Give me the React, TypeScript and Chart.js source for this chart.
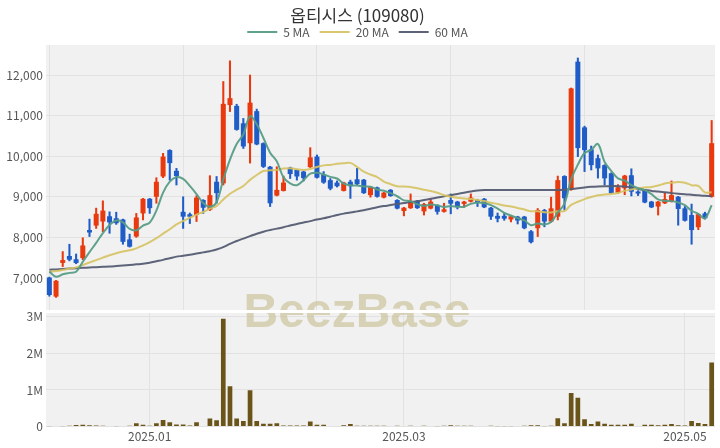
import React, { useEffect, useRef } from 'react';
import { Chart, registerables } from 'chart.js';
Chart.register(...registerables);

const title = '옵티시스 (109080)';
const dates = [
  '2024-12-09','2024-12-10','2024-12-11','2024-12-12','2024-12-13','2024-12-16','2024-12-17','2024-12-18','2024-12-19','2024-12-20',
  '2024-12-23','2024-12-24','2024-12-26','2024-12-27','2024-12-30','2025-01-02','2025-01-03','2025-01-06','2025-01-07','2025-01-08',
  '2025-01-09','2025-01-10','2025-01-13','2025-01-14','2025-01-15','2025-01-16','2025-01-17','2025-01-20','2025-01-21','2025-01-22',
  '2025-01-23','2025-01-24','2025-01-31','2025-02-03','2025-02-04','2025-02-05','2025-02-06','2025-02-07','2025-02-10','2025-02-11',
  '2025-02-12','2025-02-13','2025-02-14','2025-02-17','2025-02-18','2025-02-19','2025-02-20','2025-02-21','2025-02-24','2025-02-25',
  '2025-02-26','2025-02-27','2025-02-28','2025-03-04','2025-03-05','2025-03-06','2025-03-07','2025-03-10','2025-03-11','2025-03-12',
  '2025-03-13','2025-03-14','2025-03-17','2025-03-18','2025-03-19','2025-03-20','2025-03-21','2025-03-24','2025-03-25','2025-03-26',
  '2025-03-27','2025-03-28','2025-03-31','2025-04-01','2025-04-02','2025-04-03','2025-04-04','2025-04-07','2025-04-08','2025-04-09',
  '2025-04-10','2025-04-11','2025-04-14','2025-04-15','2025-04-16','2025-04-17','2025-04-18','2025-04-21','2025-04-22','2025-04-23',
  '2025-04-24','2025-04-25','2025-04-28','2025-04-29','2025-04-30','2025-05-02','2025-05-07','2025-05-08','2025-05-09','2025-05-12',
];
const opens = [
  7010,6540,7370,7540,7460,7490,8180,8290,8390,8520, 8470,8440,7950,8020,8590,8950,9000,9500,10150,9640,
  8630,8570,8550,8920,8680,9370,9330,11260,11240,10810, 10320,11110,10320,9740,9030,9145,9720,9660,9620,9730,
  9990,9550,9410,9350,9145,9370,9430,9420,9040,9230, 8980,9170,8920,8650,8720,8900,8640,8710,8790,8630,
  8920,8880,8825,8880,8920,8950,8730,8530,8530,8440, 8510,8510,8150,8225,8670,8390,8510,9510,9170,12330,
  10710,10170,9950,9780,9580,9100,9210,9530,9130,9150, 8880,8760,8840,8880,9000,8716,8550,8250,8590,9000,
];
const highs = [
  7020,6940,7650,7830,7590,7990,8450,8720,8900,8630, 8620,8450,8080,8590,8960,8960,9470,10070,10160,9700,
  9000,8600,9030,8930,9520,9500,11840,12350,11280,10930, 12000,11160,10330,9750,9740,9510,9730,9670,9630,10210,
  10030,9620,9450,9390,9360,9410,9700,9430,9240,9240, 9110,9180,8930,8740,9070,8910,8840,8940,8800,8840,
  9070,8890,8890,9070,8940,8960,8740,8600,8590,8530, 8520,8520,8170,8710,8690,8990,9510,9520,11680,12420,
  10740,10250,10030,9790,9590,9300,9530,9690,9150,9160, 8890,8890,9100,9390,9010,8760,8820,8580,8620,10880,
];
const lows = [
  6550,6520,7280,7420,7350,7450,8020,8220,8140,8100, 8320,7830,7760,8000,8430,8590,8840,9470,9410,9290,
  8220,8340,8390,8590,8660,8840,9290,11100,10640,10190, 9830,10280,9720,8760,9020,9140,9450,9410,9390,9720,
  9460,9330,9170,9240,9140,8960,9290,9080,8990,8990, 8970,9010,8700,8530,8710,8710,8550,8700,8570,8620,
  8580,8700,8740,8870,8760,8730,8440,8380,8420,8380, 8330,8210,7860,8020,8260,8380,8430,8670,9160,9990,
  9620,9660,9460,9290,9080,9080,9050,9020,9030,8850, 8730,8550,8830,8870,8300,8400,7830,8190,8450,8990,
];
const closes = [
  6580,6930,7440,7450,7370,7800,8120,8580,8660,8370, 8350,7890,7770,8490,8950,8720,9370,9990,9830,9510,
  8510,8510,8980,8730,9040,9090,11290,11430,10650,10240, 11320,10290,9740,8840,9170,9350,9560,9500,9460,9970,
  9470,9350,9200,9260,9350,9260,9310,9090,9235,9000, 9100,9020,8710,8730,8900,8720,8820,8880,8630,8690,
  8830,8745,8880,8980,8860,8740,8510,8460,8460,8520, 8415,8225,7880,8675,8390,8715,9410,8965,11670,10200,
  10150,9780,9700,9455,9090,9235,9520,9125,9080,8860, 8740,8880,8945,9040,8700,8410,8180,8570,8470,10320,
];
const volumes = [
  10000,15000,12000,20000,45000,50000,40000,30000,20000,15000, 12000,15000,20000,90000,50000,20000,90000,180000,120000,60000,
  60000,30000,120000,15000,220000,170000,2940000,1100000,220000,150000, 990000,150000,80000,80000,90000,30000,30000,30000,30000,140000,
  50000,50000,15000,15000,40000,70000,25000,20000,25000,20000, 20000,15000,20000,15000,25000,15000,20000,15000,10000,20000,
  40000,25000,20000,20000,15000,15000,20000,10000,10000,10000, 15000,20000,40000,40000,10000,25000,230000,90000,920000,790000,
  200000,70000,140000,80000,50000,50000,50000,80000,15000,50000, 50000,40000,50000,70000,40000,30000,150000,100000,70000,1750000,
];
const ma5 = [
  7155,7030,7090,7125,7154,7398,7636,7864,8106,8306, 8416,8370,8208,8174,8290,8364,8660,9104,9372,9484,
  9442,9270,9068,8848,8754,8870,9426,9916,10300,10540, 10986,10786,10448,10086,9872,9478,9332,9284,9408,9568,
  9592,9550,9490,9450,9326,9284,9276,9254,9249,9179, 9147,9089,9013,8912,8892,8816,8776,8810,8790,8748,
  8770,8755,8755,8825,8859,8841,8794,8710,8606,8538, 8473,8416,8300,8343,8317,8377,8614,8831,9430,9792,
  10079,10153,10300,9857,9635,9452,9400,9285,9210,9164, 9065,8937,8901,8893,8861,8795,8655,8580,8466,8790,
];
const ma20 = [
  7155,7170,7197,7230,7260,7320,7380,7440,7500,7560, 7610,7650,7680,7730,7800,7880,7980,8090,8200,8320,
  8405,8484,8561,8625,8709,8773,8932,9074,9174,9267, 9416,9536,9634,9652,9663,9694,9704,9679,9661,9684,
  9732,9774,9785,9811,9827,9835,9736,9619,9548,9486, 9375,9312,9260,9255,9241,9210,9173,9142,9100,9036,
  9004,8974,8958,8944,8920,8894,8854,8822,8783,8759, 8725,8685,8644,8641,8616,8615,8645,8649,8801,8877,
  8943,8994,9035,9059,9071,9095,9146,9179,9210,9227, 9243,9276,9329,9348,9363,9348,9286,9267,9107,9113,
];
const ma60 = [
  7200,7210,7220,7230,7240,7250,7258,7266,7273,7280, 7292,7305,7320,7335,7350,7375,7410,7445,7485,7525,
  7545,7570,7600,7630,7660,7700,7760,7840,7910,7970, 8030,8090,8140,8180,8215,8250,8290,8330,8365,8400,
  8440,8470,8510,8550,8585,8610,8640,8670,8705,8740, 8770,8795,8820,8845,8870,8890,8920,8950,8980,9010,
  9040,9070,9100,9130,9155,9165,9165,9166,9167,9167, 9167,9167,9168,9168,9168,9169,9170,9172,9190,9210,
  9230,9245,9255,9260,9262,9262,9255,9230,9195,9165, 9145,9130,9110,9090,9075,9065,9050,9035,9025,9015,
];
const priceTicks = [7000, 8000, 9000, 10000, 11000, 12000];
const volumeTicks = [0, 1000000, 2000000, 3000000];
const monthLabels = ['2025.01', '2025.03', '2025.05'];

const FONT = '"Noto Sans CJK KR", "Noto Sans", sans-serif';
const UP = '#e8390f';
const DOWN = '#1f5cc8';
const GRID = '#e2e2e2';
const BG = '#f1f1f1';
const VOL = '#6b5419';

const labelAt: Record<number, string> = {};
monthLabels.forEach((m) => {
  const key = m.replace('.', '-');
  const idx = dates.findIndex((d) => d.startsWith(key));
  if (idx >= 0) labelAt[idx] = m;
});

function makePlugin(offsetY: number) {
  return {
    id: 'bgwm',
    beforeDraw(chart: any) {
      const { ctx, chartArea: a } = chart;
      ctx.save();
      ctx.fillStyle = BG;
      ctx.fillRect(a.left, a.top, a.right - a.left, a.bottom - a.top);
      ctx.restore();
    },
    beforeDatasetsDraw(chart: any) {
      const { ctx, chartArea: a } = chart;
      ctx.save();
      ctx.beginPath();
      ctx.rect(a.left, a.top, a.right - a.left, a.bottom - a.top);
      ctx.clip();
      ctx.font = 'bold 48px "Liberation Sans", Arial, sans-serif';
      ctx.fillStyle = 'rgba(198,189,146,0.62)';
      ctx.textAlign = 'center';
      ctx.textBaseline = 'alphabetic';
      ctx.fillText('BeezBase', 357, 327 - offsetY);
      ctx.restore();
    },
  };
}

const legendSize = {
  id: 'legendSize',
  beforeInit(chart: any) {
    const lg = chart.legend;
    if (!lg) return;
    const origFit = lg.fit;
    lg.fit = function () {
      origFit.call(this);
      this.height = 29;
    };
  },
};

export default function App() {
  const topRef = useRef<HTMLCanvasElement>(null);
  const botRef = useRef<HTMLCanvasElement>(null);

  useEffect(() => {
    document.body.style.margin = '0';
    Chart.defaults.font.family = FONT;
    const colors = closes.map((c, i) => (c >= opens[i] ? UP : DOWN));
    const lineDs = (label: string, data: number[], color: string) => ({
      type: 'line' as const,
      label,
      data,
      borderColor: color,
      backgroundColor: color,
      borderWidth: 2,
      pointRadius: 0,
      tension: 0.35,
      order: 0,
    });

    const top = new Chart(topRef.current!, {
      type: 'bar',
      data: {
        labels: dates,
        datasets: [
          lineDs('5 MA', ma5, 'rgba(86,156,134,0.95)'),
          lineDs('20 MA', ma20, 'rgba(214,194,96,0.9)'),
          lineDs('60 MA', ma60, 'rgba(84,92,114,0.95)'),
          {
            type: 'bar',
            label: 'body',
            data: opens.map((o, i) => [Math.min(o, closes[i]), Math.max(o, closes[i]) + (o === closes[i] ? 10 : 0)]),
            backgroundColor: colors,
            barPercentage: 0.75,
            categoryPercentage: 1,
            grouped: false,
            order: 2,
          } as any,
          {
            type: 'bar',
            label: 'wick',
            data: lows.map((l, i) => [l, highs[i]]),
            backgroundColor: colors,
            barThickness: 1.4,
            grouped: false,
            order: 3,
          } as any,
        ],
      },
      options: {
        animation: false,
        responsive: false,
        events: [],
        layout: { padding: { left: 0, right: 5, top: 0, bottom: 1 } },
        plugins: {
          title: {
            display: true,
            text: title,
            color: '#333',
            font: { size: 17, weight: 'normal', family: FONT, lineHeight: 1.2 },
            padding: { top: 5, bottom: -9.4 },
          },
          legend: {
            display: true,
            labels: {
              filter: (item: any) => item.text.indexOf('MA') >= 0,
              usePointStyle: true,
              pointStyle: 'line',
              pointStyleWidth: 30,
              boxHeight: 12,
              color: '#555',
              font: { size: 12, family: FONT },
              padding: 10,
            },
          },
          tooltip: { enabled: false },
        },
        scales: {
          x: {
            offset: true,
            ticks: { display: false, autoSkip: false },
            grid: {
              offset: false,
              drawTicks: false,
              tickLength: 0,
              color: (c: any) => (c.index % 20 === 0 ? GRID : 'rgba(0,0,0,0)'),
            },
            border: { display: false },
            afterFit: (s: any) => { s.height = 0; },
          },
          y: {
            min: 6210,
            max: 12740,
            afterBuildTicks: (s: any) => { s.ticks = priceTicks.map((v) => ({ value: v })); },
            ticks: {
              color: '#555',
              padding: 3,
              font: { size: 12, family: FONT },
              callback: (v: any) => Number(v).toLocaleString('en-US'),
            },
            grid: { color: GRID, drawTicks: false, tickLength: 0 },
            border: { display: false },
            afterFit: (s: any) => { s.width = 46; s.paddingTop = 0; s.paddingBottom = 0; },
          },
        },
      },
      plugins: [makePlugin(0), legendSize],
    } as any);

    const bot = new Chart(botRef.current!, {
      type: 'bar',
      data: {
        labels: dates,
        datasets: [
          {
            label: 'volume',
            data: volumes,
            backgroundColor: VOL,
            barPercentage: 0.7,
            categoryPercentage: 1,
          },
        ],
      },
      options: {
        animation: false,
        responsive: false,
        events: [],
        layout: { padding: { left: 0, right: 5, top: 2, bottom: 1 } },
        plugins: { legend: { display: false }, title: { display: false }, tooltip: { enabled: false } },
        scales: {
          x: {
            offset: true,
            ticks: {
              autoSkip: false,
              maxRotation: 0,
              minRotation: 0,
              padding: 3,
              color: '#555',
              font: { size: 12, family: FONT },
              callback: (_v: any, i: number) => labelAt[i] ?? '',
            },
            grid: {
              offset: false,
              drawTicks: false,
              tickLength: 0,
              color: (c: any) => (labelAt[c.index] ? GRID : 'rgba(0,0,0,0)'),
            },
            border: { display: false },
          },
          y: {
            min: 0,
            max: 3100000,
            afterBuildTicks: (s: any) => { s.ticks = volumeTicks.map((v) => ({ value: v })); },
            ticks: {
              color: '#555',
              padding: 3,
              font: { size: 12, family: FONT },
              callback: (v: any) => (Number(v) === 0 ? '0' : Number(v) / 1000000 + 'M'),
            },
            grid: { color: GRID, drawTicks: false, tickLength: 0 },
            border: { display: false },
            afterFit: (s: any) => { s.width = 46; s.paddingTop = 0; },
          },
        },
      },
      plugins: [makePlugin(311)],
    } as any);

    return () => {
      top.destroy();
      bot.destroy();
    };
  }, []);

  return (
    <div style={{ position: 'relative', width: 720, height: 448, background: '#fff' }}>
      <canvas ref={topRef} width={720} height={311} style={{ position: 'absolute', left: 0, top: 0 }} />
      <canvas ref={botRef} width={720} height={137} style={{ position: 'absolute', left: 0, top: 311 }} />
    </div>
  );
}
